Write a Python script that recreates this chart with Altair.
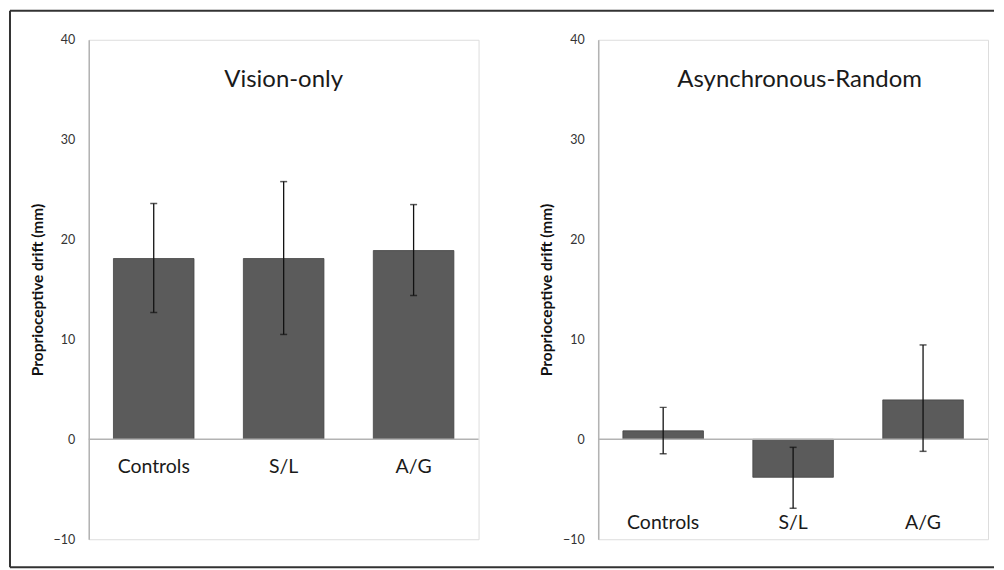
import altair as alt
import pandas as pd

groups = ["Controls", "S/L", "A/G"]

vision_mean = [18.1, 18.1, 18.9]
vision_lo = [12.7, 10.5, 14.4]
vision_hi = [23.6, 25.8, 23.5]

async_mean = [0.85, -3.8, 3.95]
async_lo = [-1.45, -6.9, -1.2]
async_hi = [3.2, -0.8, 9.45]

y_ticks = [-10, 0, 10, 20, 30, 40]

W, H = 391, 501
FONT = "Lato"
BAR = "#5b5b5b"


def panel(title, means, lo, hi, label_offset, title_x, border=False):
    df = pd.DataFrame({"group": groups, "mean": means, "lo": lo, "hi": hi})
    base = alt.Chart(df)
    xenc = alt.X(
        "group:N",
        sort=groups,
        scale=alt.Scale(paddingInner=0.38, paddingOuter=0.19),
        axis=alt.Axis(
            title=None,
            labelAngle=0,
            domain=False,
            ticks=False,
            labelPadding=0,
            offset=label_offset,
            labelFontSize=19.5,
            labelFont=FONT,
            labelColor="#1a1a1a",
        ),
    )
    yscale = alt.Scale(domain=[-10, 40], nice=False, zero=False)
    bars = base.mark_bar(color=BAR, stroke="#444444", strokeWidth=0.8).encode(
        x=xenc,
        y=alt.Y(
            "mean:Q",
            scale=yscale,
            axis=alt.Axis(
                values=y_ticks,
                grid=False,
                ticks=False,
                domainColor="#b3b3b3",
                domainWidth=1.5,
                labelFont=FONT,
                labelFontSize=12.5,
                labelColor="#333333",
                labelPadding=14,
                title="Proprioceptive drift (mm)",
                titleFont=FONT,
                titleFontSize=15.5,
                titleFontWeight="bold",
                titleColor="#111111",
                titlePadding=8,
            ),
        ),
    )
    zero = alt.Chart(pd.DataFrame({"z": [0]})).mark_rule(
        color="#b3b3b3", strokeWidth=1.5
    ).encode(y=alt.Y("z:Q", scale=yscale))
    err = base.mark_rule(color="#111111", strokeWidth=1.3).encode(
        x=alt.X("group:N", sort=groups), y="lo:Q", y2="hi:Q"
    )
    cap_lo = base.mark_tick(color="#111111", size=7, thickness=1.5).encode(
        x=alt.X("group:N", sort=groups), y="lo:Q"
    )
    cap_hi = base.mark_tick(color="#111111", size=7, thickness=1.5).encode(
        x=alt.X("group:N", sort=groups), y="hi:Q"
    )
    one = alt.Chart(pd.DataFrame({"t": [title]}))
    ttl = one.mark_text(
        font=FONT, fontSize=24, color="#1a1a1a", align="center", baseline="middle"
    ).encode(text="t:N", x=alt.value(title_x), y=alt.value(40))
    layers = [bars, zero, err, cap_lo, cap_hi, ttl]
    if border:
        bcol = "#333333"
        top = one.mark_rule(color=bcol, strokeWidth=2).encode(
            x=alt.value(-79), x2=alt.value(908), y=alt.value(-29)
        )
        bottom = one.mark_rule(color=bcol, strokeWidth=2).encode(
            x=alt.value(-79), x2=alt.value(908), y=alt.value(529)
        )
        left = one.mark_rule(color=bcol, strokeWidth=2).encode(
            x=alt.value(-79), y=alt.value(-29), y2=alt.value(529)
        )
        layers += [top, bottom, left]
    return alt.layer(*layers).properties(width=W, height=H)


left = panel("Vision-only", vision_mean, vision_lo, vision_hi, -82, W / 2, border=True)
right = panel("Asynchronous-Random", async_mean, async_lo, async_hi, -26, 202)

chart = (
    alt.hconcat(left, right, spacing=120, bounds="flush")
    .properties(padding=0)
    .configure_view(stroke=None)
    .configure(background="white")
)

chart.save("out.html", embed_options={"renderer": "svg", "actions": False})
